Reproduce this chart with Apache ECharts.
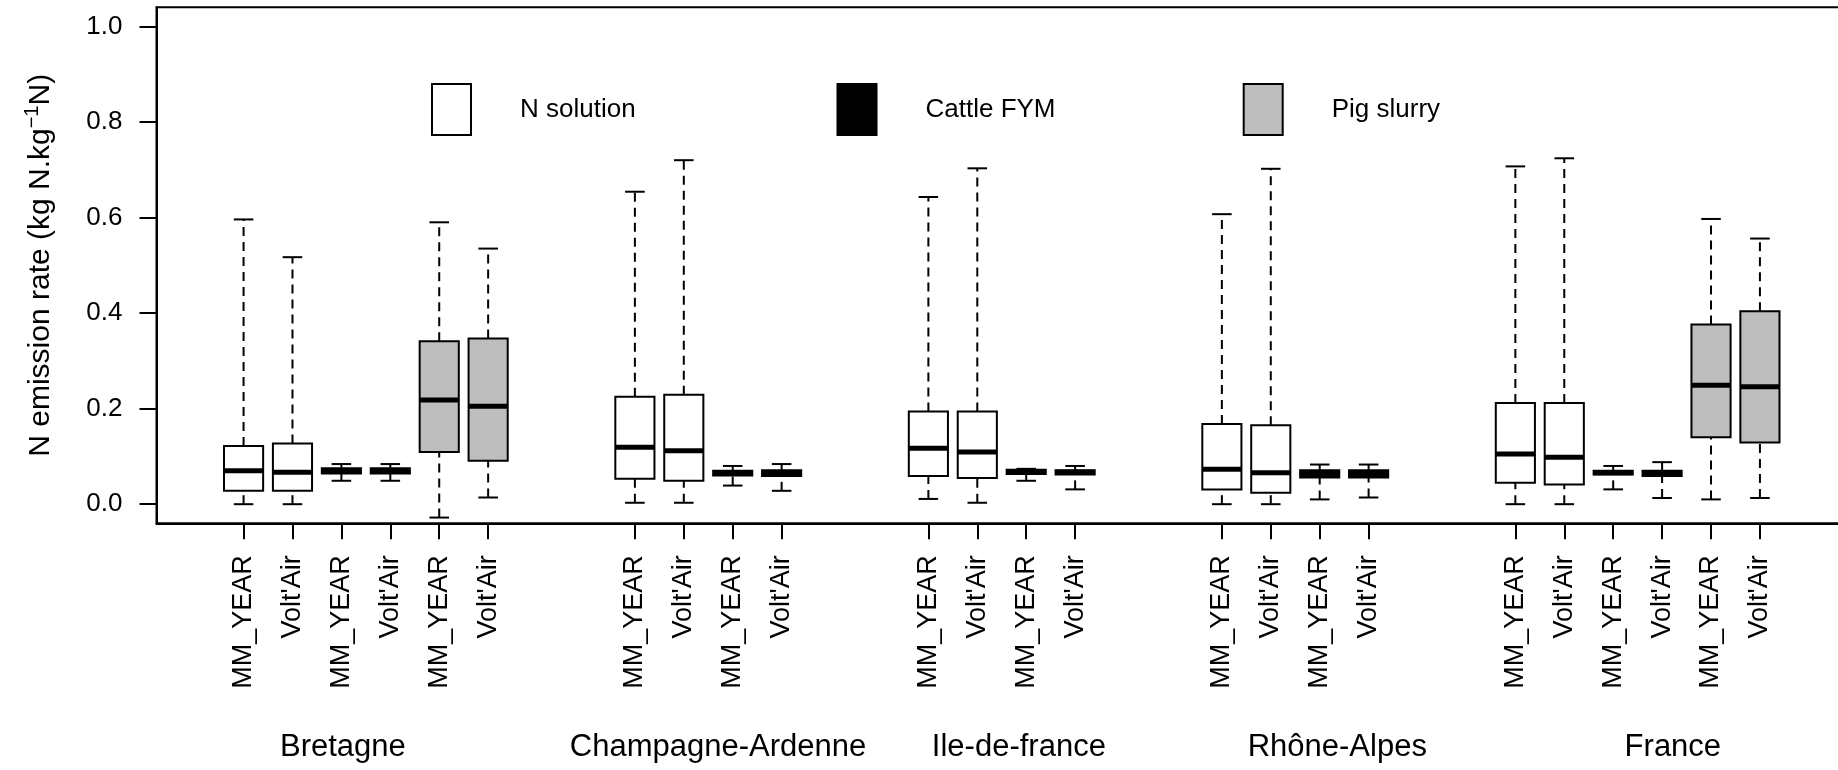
<!DOCTYPE html>
<html>
<head>
<meta charset="utf-8">
<script src="https://cdn.jsdelivr.net/npm/echarts@6/dist/echarts.min.js"></script>
<style>
html,body{margin:0;padding:0;background:#fff;}
#chart{width:1838px;height:770px;}
</style>
</head>
<body>
<div id="chart"></div>
<script>
// ---------- data ----------
const regions = ['Bretagne', 'Champagne-Ardenne', 'Ile-de-france', 'Rhône-Alpes', 'France'];
const methods = ['MM_YEAR', "Volt'Air"];
const fertilizers = ['N solution', 'Cattle FYM', 'Pig slurry'];
// fertilizers (index into fertilizers) plotted for each region, in order
const regionFertilizers = [[0, 1, 2], [0, 1], [0, 1], [0, 1], [0, 1, 2]];

// box statistics [min, Q1, median, Q3, max], region by region, MM_YEAR then Volt'Air
const nSolutionStats = [
  [0.000, 0.028, 0.070, 0.122, 0.596],
  [0.000, 0.028, 0.067, 0.127, 0.517],
  [0.003, 0.053, 0.119, 0.225, 0.654],
  [0.003, 0.049, 0.112, 0.229, 0.720],
  [0.011, 0.059, 0.117, 0.194, 0.643],
  [0.003, 0.055, 0.109, 0.194, 0.703],
  [0.000, 0.031, 0.073, 0.168, 0.607],
  [0.000, 0.024, 0.066, 0.165, 0.702],
  [0.000, 0.045, 0.105, 0.212, 0.707],
  [0.000, 0.041, 0.098, 0.212, 0.724]
];
const cattleFymStats = [
  [0.049, 0.064, 0.070, 0.075, 0.084],
  [0.049, 0.064, 0.070, 0.075, 0.084],
  [0.039, 0.060, 0.065, 0.070, 0.080],
  [0.028, 0.059, 0.065, 0.071, 0.084],
  [0.049, 0.063, 0.068, 0.072, 0.074],
  [0.031, 0.062, 0.067, 0.071, 0.080],
  [0.010, 0.056, 0.063, 0.071, 0.083],
  [0.014, 0.056, 0.063, 0.071, 0.083],
  [0.031, 0.062, 0.066, 0.070, 0.080],
  [0.013, 0.059, 0.065, 0.070, 0.088]
];
const pigSlurryStats = [
  [-0.028, 0.109, 0.218, 0.341, 0.590],
  [0.014, 0.091, 0.205, 0.347, 0.535],
  [0.010, 0.140, 0.249, 0.376, 0.597],
  [0.013, 0.129, 0.246, 0.404, 0.556]
];
// where each region name is written along the box axis
const regionLabelAt = [3.03, 10.70, 16.85, 23.36, 30.22];
const yTicks = [0, 0.2, 0.4, 0.6, 0.8, 1.0];

// ---------- styles ----------
const fillColors = ['#ffffff', '#000000', '#bebebe'];
const FONT = "'Liberation Sans', Arial, sans-serif";

// ---------- build series data (boxes placed at consecutive positions, gap of 2 between regions) ----------
const statsByFert = [nSolutionStats, cattleFymStats, pigSlurryStats];
const used = [0, 0, 0];
const seriesData = [[], [], []];
const tickPositions = [];
const tickNames = [];
let pos = 0;
regionFertilizers.forEach(function (fs) {
  fs.forEach(function (f) {
    methods.forEach(function (m) {
      pos += 1;
      const s = statsByFert[f][used[f]++];
      seriesData[f].push([pos].concat(s));
      tickPositions.push(pos);
      tickNames.push(m);
    });
  });
  pos += 2;
});

function nameAt(v, positions, names) {
  for (let i = 0; i < positions.length; i++) {
    if (Math.abs(positions[i] - v) < 1e-6) return names[i];
  }
  return '';
}

function renderBox(params, api) {
  const x = api.value(0);
  const pLo = api.coord([x, api.value(1)]);
  const pQ1 = api.coord([x, api.value(2)]);
  const pMed = api.coord([x, api.value(3)]);
  const pQ3 = api.coord([x, api.value(4)]);
  const pHi = api.coord([x, api.value(5)]);
  const half = api.size([0.8, 0])[0] / 2;
  const cap = half / 2;
  const cx = pMed[0];
  const solid = { stroke: '#000', lineWidth: 2 };
  const dashed = { stroke: '#000', lineWidth: 2, lineDash: [9, 6] };
  return {
    type: 'group',
    children: [
      { type: 'line', shape: { x1: cx, y1: pQ3[1], x2: cx, y2: pHi[1] }, style: dashed },
      { type: 'line', shape: { x1: cx, y1: pLo[1], x2: cx, y2: pQ1[1] }, style: dashed },
      { type: 'line', shape: { x1: cx - cap, y1: pHi[1], x2: cx + cap, y2: pHi[1] }, style: solid },
      { type: 'line', shape: { x1: cx - cap, y1: pLo[1], x2: cx + cap, y2: pLo[1] }, style: solid },
      { type: 'rect', shape: { x: cx - half, y: pQ3[1], width: 2 * half, height: pQ1[1] - pQ3[1] },
        style: { fill: api.visual('color'), stroke: '#000', lineWidth: 2 } },
      { type: 'line', shape: { x1: cx - half, y1: pMed[1], x2: cx + half, y2: pMed[1] },
        style: { stroke: '#000', lineWidth: 5 } }
    ]
  };
}

const legendLefts = [431, 836.5, 1242.7];

const chart = echarts.init(document.getElementById('chart'), null, { renderer: 'canvas' });
const option = {
  backgroundColor: '#ffffff',
  animation: false,
  textStyle: { fontFamily: FONT, color: '#000' },
  grid: {
    left: 156.5, right: -9, top: 7.3, bottom: 246.7,
    show: true, borderColor: '#000', borderWidth: 2, backgroundColor: 'transparent',
    containLabel: false, outerBoundsMode: 'none'
  },
  legend: fertilizers.map(function (name, i) {
    return {
      data: [name], left: legendLefts[i], top: 83, padding: 0, itemGap: 0,
      icon: 'rect', itemWidth: 39, itemHeight: 51, selectedMode: false,
      itemStyle: { borderColor: '#000', borderWidth: 2 },
      textStyle: { fontFamily: FONT, fontSize: 26, color: '#000', padding: [14, 0, 0, 44] }
    };
  }),
  xAxis: [
    {
      type: 'value', min: -0.78, max: 33.78, position: 'bottom',
      axisLine: { show: true, onZero: false, lineStyle: { color: '#000', width: 2 } },
      axisTick: { show: true, length: 16, customValues: tickPositions, lineStyle: { color: '#000', width: 2 } },
      axisLabel: {
        customValues: tickPositions, rotate: 90, margin: 32,
        fontFamily: FONT, fontSize: 27, color: '#000',
        formatter: function (v) { return nameAt(v, tickPositions, tickNames); }
      },
      splitLine: { show: false }
    },
    {
      type: 'value', min: -0.78, max: 33.78, position: 'bottom',
      axisLine: { show: false }, axisTick: { show: false },
      axisLabel: {
        customValues: regionLabelAt, margin: 224, verticalAlign: 'middle',
        fontFamily: FONT, fontSize: 31, color: '#000',
        formatter: function (v) { return nameAt(v, regionLabelAt, regions); }
      },
      splitLine: { show: false }
    }
  ],
  yAxis: {
    type: 'value', min: -0.04, max: 1.04, position: 'left',
    axisLine: { show: true, onZero: false, lineStyle: { color: '#000', width: 2 } },
    axisTick: { show: true, length: 17, customValues: yTicks, lineStyle: { color: '#000', width: 2 } },
    axisLabel: {
      customValues: yTicks, margin: 34, fontFamily: FONT, fontSize: 26, color: '#000',
      formatter: function (v) { return v.toFixed(1); }
    },
    splitLine: { show: false },
    name: '{a|N emission rate (kg N.kg}{s|\u22121}{a|N)}',
    nameLocation: 'middle', nameGap: 98,
    nameTextStyle: {
      rich: {
        a: { fontFamily: FONT, fontSize: 30, color: '#000', lineHeight: 36 },
        s: { fontFamily: FONT, fontSize: 20, color: '#000', verticalAlign: 'top', lineHeight: 20 }
      }
    }
  },
  series: fertilizers.map(function (name, f) {
    return {
      type: 'custom', name: name, data: seriesData[f], renderItem: renderBox,
      xAxisIndex: 0, yAxisIndex: 0,
      dimensions: ['position', 'min', 'Q1', 'median', 'Q3', 'max'],
      encode: { x: 0, y: [1, 2, 3, 4, 5] },
      itemStyle: { color: fillColors[f] }, clip: false, z: 2
    };
  })
};
chart.setOption(option);
</script>
</body>
</html>
